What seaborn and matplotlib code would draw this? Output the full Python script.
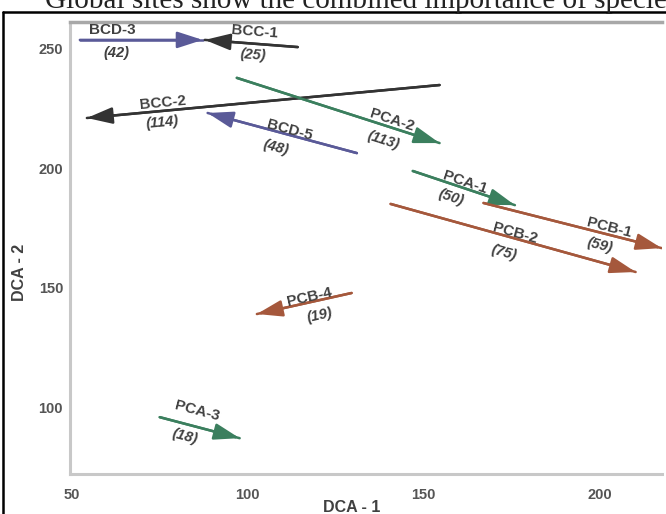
import numpy as np
import pandas as pd
import matplotlib
matplotlib.use("Agg")
import matplotlib.pyplot as plt
from matplotlib.lines import Line2D
import seaborn as sns

# ---- data ----
names   = ["BCD-3", "BCC-1", "BCC-2", "BCD-5", "PCA-2", "PCA-1", "PCB-1", "PCB-2", "PCB-4", "PCA-3"]
counts  = [42, 25, 114, 48, 113, 50, 59, 75, 19, 18]
groups  = ["BCD", "BCC", "BCC", "BCD", "PCA", "PCA", "PCB", "PCB", "PCB", "PCA"]
x_start = [52.3, 114.2, 154.5, 131.0, 96.9, 146.9, 167.0, 140.6, 129.5, 75.0]
y_start = [253.8, 250.8, 234.9, 206.4, 237.9, 198.9, 185.5, 185.1, 147.8, 95.8]
x_end   = [87.2, 87.8, 54.3, 88.6, 154.5, 175.9, 217.6, 210.2, 102.6, 97.7]
y_end   = [253.8, 253.8, 221.1, 223.2, 210.6, 184.6, 166.6, 156.6, 139.0, 87.0]
x_ticks = [50, 100, 150, 200]
y_ticks = [100, 150, 200, 250]

# ---- layout: label positions ----
name_x  = [61.4, 102.0, 75.9, 111.9, 140.9, 161.6, 202.8, 176.1, 117.6, 85.5]
name_y  = [258.0, 257.1, 227.4, 216.1, 220.3, 193.9, 175.0, 172.9, 146.1, 98.3]
cnt_x   = [62.8, 101.4, 75.6, 108.0, 138.4, 157.7, 200.0, 172.7, 120.5, 82.1]
cnt_y   = [248.3, 247.5, 219.4, 208.5, 211.9, 187.6, 167.9, 164.5, 138.6, 87.5]

palette = {"BCD": "#5a5a98", "BCC": "#333333", "PCA": "#3b7f5e", "PCB": "#a5583c"}

sns.set_theme(style="white")
plt.rcParams["font.family"] = ["Liberation Sans", "DejaVu Sans"]

fig = plt.figure(figsize=(6.66, 5.14), dpi=100)
W, H = 666, 514
ax = fig.add_axes([70 / W, (H - 474) / H, (662 - 70) / W, (474 - 22) / H])

# shafts drawn with seaborn
rows = []
for i, n in enumerate(names):
    rows.append(dict(name=n, group=groups[i], x=x_start[i], y=y_start[i]))
    rows.append(dict(name=n, group=groups[i], x=x_end[i], y=y_end[i]))
df = pd.DataFrame(rows)
sns.lineplot(data=df, x="x", y="y", hue="group", units="name", estimator=None,
             palette=palette, sort=False, linewidth=1.8, legend=False, ax=ax)

ax.set_xlim(49.5, 217.7)
ax.set_ylim(72, 261.3)

# arrow heads
for i in range(len(names)):
    c = palette[groups[i]]
    ax.annotate("", xy=(x_end[i], y_end[i]), xytext=(x_start[i], y_start[i]),
                arrowprops=dict(arrowstyle="-|>,head_length=1.3,head_width=0.42",
                                color=c, lw=1.8, shrinkA=0, shrinkB=0),
                annotation_clip=False)

# labels rotated along arrows
fig.canvas.draw()
for i in range(len(names)):
    p0 = ax.transData.transform((x_start[i], y_start[i]))
    p1 = ax.transData.transform((x_end[i], y_end[i]))
    ang = np.degrees(np.arctan2(p1[1] - p0[1], p1[0] - p0[0]))
    if ang > 90:
        ang -= 180
    if ang < -90:
        ang += 180
    ax.text(name_x[i], name_y[i], names[i], rotation=ang, rotation_mode="anchor",
            ha="center", va="center", fontsize=11, fontweight="bold", color="#404040")
    ax.text(cnt_x[i], cnt_y[i], f"({counts[i]})", rotation=ang, rotation_mode="anchor",
            ha="center", va="center", fontsize=10.5, fontweight="bold", style="italic",
            color="#404040")

# axes styling
for s in ["left", "bottom"]:
    ax.spines[s].set_color("#c8c8c8")
    ax.spines[s].set_linewidth(2.2)
ax.spines["top"].set_color("#a8a8a8")
ax.spines["top"].set_linewidth(2.5)
ax.spines["right"].set_visible(False)
ax.set_xticks(x_ticks)
ax.set_yticks(y_ticks)
ax.tick_params(length=0, labelsize=10.5, labelcolor="#555555")
ax.tick_params(axis="x", pad=10)
ax.tick_params(axis="y", pad=5)
for lab in ax.get_xticklabels() + ax.get_yticklabels():
    lab.set_fontweight("bold")
ax.set_xlabel("DCA - 1", fontsize=11.5, fontweight="bold", color="#404040")
ax.set_ylabel("DCA - 2", fontsize=11.5, fontweight="bold", color="#404040")
ax.xaxis.set_label_coords((352 - 70) / 592, (474 - 500) / 452)
ax.yaxis.set_label_coords((27 - 70) / 592, (474 - 272) / 452)

# page frame and clipped caption from the source page
fig.add_artist(Line2D([3 / W, 3 / W], [0, (H - 12) / H], color="black", lw=1.8,
                      transform=fig.transFigure))
fig.add_artist(Line2D([3 / W, 1.0], [(H - 12) / H, (H - 12) / H], color="black", lw=1.8,
                      transform=fig.transFigure))
fig.text(45 / W, (H - 8) / H, "Global sites show the combined importance of species",
         fontsize=21, family=["Liberation Serif", "DejaVu Serif"], color="#222222",
         ha="left", va="baseline")

fig.savefig("out.png", dpi=100)
